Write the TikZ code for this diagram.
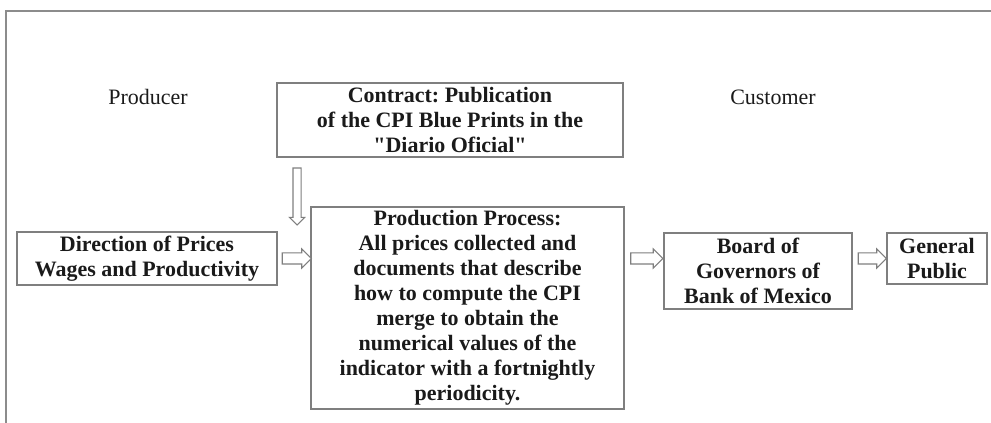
\documentclass[tikz,border=0pt]{standalone}
\usepackage{fontspec}
\setmainfont{Liberation Serif}
\usetikzlibrary{shapes.arrows, calc}
\definecolor{boxline}  {HTML}{7F7F7F}
\definecolor{framegray}{HTML}{8C8C8C}
\definecolor{ink}      {HTML}{1A1A1A}
\frenchspacing

\begin{document}
\begin{tikzpicture}[font=\fontsize{12.5}{14.2}\selectfont,
    stage/.style={draw=boxline, line width=1.1pt, align=center, text=ink, font=\fontsize{12.5}{14.2}\selectfont\bfseries, inner sep=2pt},
    hollow/.style={single arrow, draw=boxline, line width=0.6pt, fill=white, inner sep=0.1cm, single arrow head extend=0.08cm, minimum height=#1, sloped}]
  \useasboundingbox (0,0) rectangle (19.82,8.46);
  \draw[framegray, line width=0.8pt] (0.12,0) -- (0.12,8.24) -- (19.82,8.24);
  % side labels
  \node[text=ink] (producer) at (2.96,6.52) {Producer};
  \node[text=ink] (customer) at (15.46,6.52) {Customer};
  % boxes
  \node[stage, minimum width=6.92cm, minimum height=1.48cm] (contract) at (9.0,6.06) {Contract: Publication\\ of the CPI Blue Prints in the\\ \textquotedbl Diario Oficial\textquotedbl};
  \node[stage, minimum width=6.26cm, minimum height=4.0cm] (prod) at (9.35,2.3) {Production Process:\\ All prices collected and\\ documents that describe\\ how to compute the CPI\\ merge to obtain the\\ numerical values of the\\ indicator with a fortnightly\\ periodicity.};
  \node[stage, minimum width=5.2cm, minimum height=1.02cm] (dir) at (2.94,3.29) {Direction of Prices\\ Wages and Productivity};
  \node[stage, minimum width=3.76cm, minimum height=1.52cm] (board) at (15.16,3.04) {Board of\\ Governors of\\ Bank of Mexico};
  \node[stage, minimum width=2.0cm, minimum height=1.02cm] (public) at (18.74,3.29) {General\\ Public};
  % hollow arrows
  \path ([xshift=0.42cm, yshift=-0.16cm]contract.south west) -- ++(0,-1.14) node[midway, hollow=1.14cm, inner sep=0.07cm, single arrow head extend=0.07cm] {};
  \path (dir.east) -- (dir.east -| prod.west) node[midway, hollow=0.58cm] {};
  \path (prod.east |- dir.east) -- (board.west |- dir.east) node[midway, hollow=0.64cm] {};
  \path (board.east |- public.west) -- (public.west) node[midway, hollow=0.56cm] {};
\end{tikzpicture}
\end{document}
